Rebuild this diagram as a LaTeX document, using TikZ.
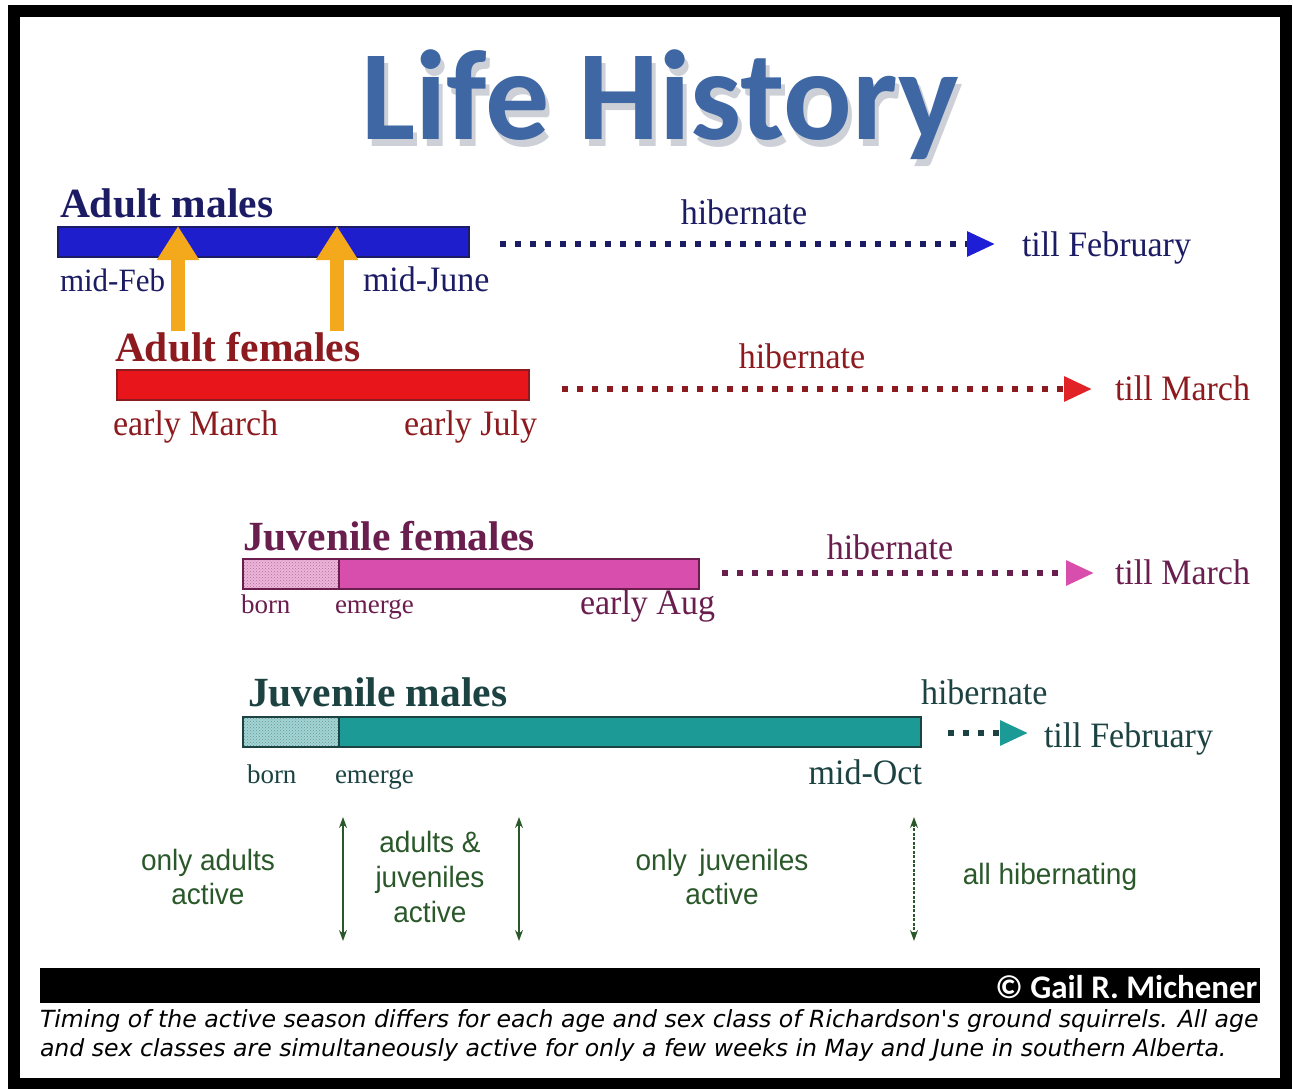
\documentclass[tikz,border=0pt]{standalone}
\usepackage{fontspec}
\setmainfont{Liberation Serif}
\newfontfamily\titlefont{Carlito}
\newfontfamily\notefont{Liberation Sans}
\newfontfamily\capfont{DejaVu Sans}
\usetikzlibrary{arrows.meta,patterns,positioning}

\definecolor{titleblue}{RGB}{63,103,163}
\definecolor{titleshade}{RGB}{205,208,214}
\definecolor{amtext}{RGB}{28,28,100}
\definecolor{amfill}{RGB}{30,30,205}
\definecolor{amhead}{RGB}{30,30,215}
\definecolor{aftext}{RGB}{140,26,30}
\definecolor{affill}{RGB}{232,22,26}
\definecolor{afhead}{RGB}{225,35,40}
\definecolor{jftext}{RGB}{106,30,78}
\definecolor{jffill}{RGB}{216,78,172}
\definecolor{jflight}{RGB}{240,180,220}
\definecolor{jmtext}{RGB}{28,66,66}
\definecolor{jmfill}{RGB}{28,154,150}
\definecolor{jmlight}{RGB}{160,214,214}
\definecolor{activegreen}{RGB}{42,88,42}
\definecolor{raiseorange}{RGB}{244,168,28}

% title with its drop shadow in one box
\newcommand{\shadowtitle}[1]{\makebox[0pt][l]{\hspace{4pt}\raisebox{-6pt}{\textcolor{titleshade}{#1}}}#1}

\tikzset{
  row/.style={inner sep=0pt, outer sep=0pt},
  head/.style={row, anchor=base west, font=\fontsize{41.5}{41.5}\selectfont\bfseries},
  date/.style={row, font=\fontsize{34}{34}\selectfont, yscale=1.05},
  small/.style={row, anchor=base west, font=\fontsize{27}{27}\selectfont},
  bar/.style={draw=#1, line width=1.6pt, minimum height=30pt, inner sep=0pt, anchor=north west},
  born/.style={draw=#1, line width=1.6pt, minimum height=30pt, inner sep=0pt, anchor=west,
    pattern=crosshatch dots, pattern color=#1!60},
  sleep/.style={line width=6pt, dash pattern=on 6pt off 9pt},
  tip/.style={-{Triangle[length=28pt,width=24pt,color=#1,fill=#1]}},
  raise/.style={raiseorange, line width=14pt, -{Triangle[length=34pt,width=40pt]}},
  note/.style={row, align=center, text=activegreen, font=\notefont\fontsize{28}{33}\selectfont, yscale=1.05},
  season/.style={activegreen, line width=1.2pt, {Stealth[length=11pt,width=8pt]}-{Stealth[length=11pt,width=8pt]}}
}

\begin{document}
\begin{tikzpicture}[x=1pt, y=-1pt]
\useasboundingbox (0,0) rectangle (1293,1089);

% frame and title
\draw[line width=12pt] (14,11) rectangle (1286,1084);
\node[row, anchor=base, text=titleblue, font=\titlefont\bfseries\fontsize{128}{128}\selectfont] (title) at (660,140) {\shadowtitle{Life History}};

% Adult males
\node[head, text=amtext] (amlabel) at (60,217) {Adult males};
\node[bar=amtext, fill=amfill, minimum width=411pt] (ambar) at (57,226) {};
\node[date, anchor=base west, text=amtext, font=\fontsize{31}{31}\selectfont] (amstart) at (60,291) {mid-Feb};
\node[date, anchor=base west, text=amtext] (amend) at (363,291) {mid-June};
\node[date, anchor=base, text=amtext] (amsleep) at (744,224) {hibernate};
\node[date, anchor=base west, text=amtext] (amtill) at (1022,256) {till February};
\coordinate (amgo) at (500,244);
\draw[sleep, amtext, tip=amhead, shorten >=27pt] (amgo) -- (amgo -| amtill.west);

% Adult females
\node[head, text=aftext] (aflabel) at (115,361) {Adult females};
\node[bar=aftext, fill=affill, minimum width=412pt] (afbar) at (116,369) {};
\node[date, anchor=base west, text=aftext] (afstart) at (113,435) {early March};
\node[date, anchor=base west, text=aftext] (afend) at (404,435) {early July};
\node[date, anchor=base, text=aftext] (afsleep) at (802,368) {hibernate};
\node[date, anchor=base west, text=aftext] (aftill) at (1115,400) {till March};
\coordinate (afgo) at (562,389);
\draw[sleep, aftext, tip=afhead, shorten >=23pt] (afgo) -- (afgo -| aftill.west);

% males wake before females
\coordinate (up1) at (178,331);
\coordinate (up2) at (337,331);
\draw[raise] (up1) -- (up1 |- ambar.north);
\draw[raise] (up2) -- (up2 |- ambar.north);

% Juvenile females
\node[head, text=jftext] (jflabel) at (243,550) {Juvenile females};
\node[bar=jftext, fill=jffill, minimum width=456pt] (jfbar) at (242,558) {};
\node[born=jftext, preaction={fill=jflight}, minimum width=96pt] (jfborn) at (jfbar.west) {};
\node[small, text=jftext] (jfb) at (241,613) {born};
\node[small, text=jftext] (jfe) at (335,613) {emerge};
\node[date, anchor=base west, text=jftext] (jfend) at (580,614) {early Aug};
\node[date, anchor=base, text=jftext] (jfsleep) at (890,559) {hibernate};
\node[date, anchor=base west, text=jftext] (jftill) at (1115,584) {till March};
\coordinate (jfgo) at (722,573);
\draw[sleep, jftext, tip=jffill, shorten >=21pt] (jfgo) -- (jfgo -| jftill.west);

% Juvenile males
\node[head, text=jmtext] (jmlabel) at (248,706) {Juvenile males};
\node[bar=jmtext, fill=jmfill, minimum width=678pt] (jmbar) at (242,716) {};
\node[born=jmtext, preaction={fill=jmlight}, minimum width=96pt] (jmborn) at (jmbar.west) {};
\node[small, text=jmtext] (jmb) at (247,783) {born};
\node[small, text=jmtext] (jme) at (335,783) {emerge};
\node[date, anchor=base east, text=jmtext] (jmend) at (922,784) {mid-Oct};
\node[date, anchor=base west, text=jmtext] (jmsleep) at (921,704) {hibernate};
\node[date, anchor=base west, text=jmtext] (jmtill) at (1044,747) {till February};
\coordinate (jmgo) at (948,733);
\draw[sleep, jmtext, tip=jmfill, shorten >=16pt] (jmgo) -- (jmgo -| jmtill.west);

% seasons
\node[note] (onlyad) at (208,877) {only adults\\active};
\node[note] (both) at (430,877) {adults \&\\juveniles\\active};
\node[note] (onlyjuv) at (722,877) {only\, juveniles\\active};
\node[note] (allsleep) at (1050,877) {all hibernating};
\coordinate (s1top) at (343,817);
\coordinate (s1bot) at (343,941);
\coordinate (s2top) at (519,817);
\coordinate (s2bot) at (519,941);
\coordinate (s3top) at (914,817);
\coordinate (s3bot) at (914,941);
\draw[season] (s1top) -- (s1bot);
\draw[season] (s2top) -- (s2bot);
\draw[season, dash pattern=on 3pt off 1.5pt] (s3top) -- (s3bot);

% credit and caption
\node[fill=black, minimum width=1220pt, minimum height=35pt, inner sep=0pt, anchor=north west] (credit) at (40,968) {};
\node[row, anchor=east, xshift=-3pt, yshift=-1pt, text=white, font=\titlefont\bfseries\fontsize{33}{33}\selectfont] (author) at (credit.east) {© Gail R. Michener};
\node[row, anchor=north west, align=left, font=\capfont\itshape\fontsize{23.6}{29}\selectfont] (caption) at (40,1010) {Timing of the active season differs for each age and sex class of Richardson's ground squirrels. All age\\and sex classes are simultaneously active for only a few weeks in May and June in southern Alberta.};
\end{tikzpicture}
\end{document}
